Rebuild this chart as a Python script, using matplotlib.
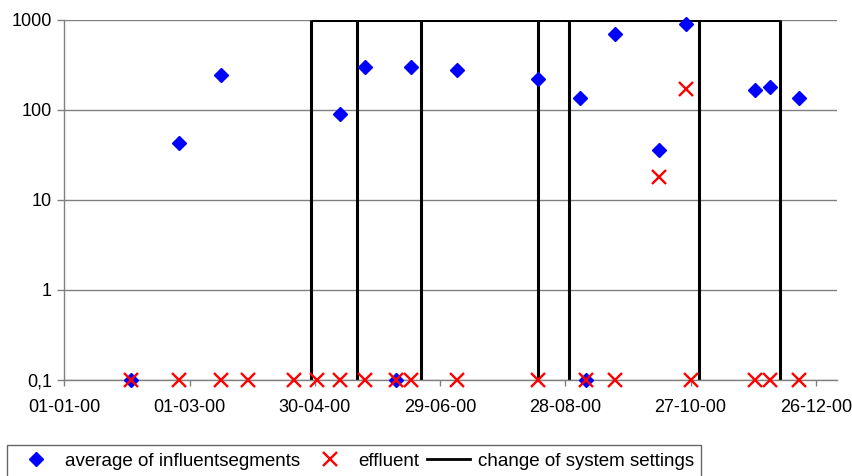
import matplotlib
matplotlib.use("Agg")
import matplotlib.pyplot as plt
import matplotlib.dates as mdates
from matplotlib.lines import Line2D
from matplotlib.ticker import FixedLocator, FixedFormatter
import pandas as pd

plt.rcParams['font.family'] = ['Liberation Sans', 'DejaVu Sans']

# average of influent segments
influent_dates = ["2000-02-02", "2000-02-25", "2000-03-16", "2000-05-12", "2000-05-24",
                  "2000-06-08", "2000-06-15", "2000-07-07", "2000-08-15", "2000-09-04",
                  "2000-09-07", "2000-09-21", "2000-10-12", "2000-10-25", "2000-11-27",
                  "2000-12-04", "2000-12-18"]
influent_vals = [0.1, 43, 243, 91, 300, 0.1, 300, 276, 223, 136, 0.1, 693, 36, 895, 168, 179, 136]

# effluent
effluent_dates = ["2000-02-02", "2000-02-25", "2000-03-16", "2000-03-29", "2000-04-20",
                  "2000-05-01", "2000-05-12", "2000-05-24", "2000-06-08", "2000-06-15",
                  "2000-07-07", "2000-08-15", "2000-09-07", "2000-09-21", "2000-10-12",
                  "2000-10-25", "2000-10-27", "2000-11-27", "2000-12-04", "2000-12-18"]
effluent_vals = [0.1, 0.1, 0.1, 0.1, 0.1, 0.1, 0.1, 0.1, 0.1, 0.1,
                 0.1, 0.1, 0.1, 0.1, 18, 170, 0.1, 0.1, 0.1, 0.1]

# change of system settings
change_dates = ["2000-04-28", "2000-05-20", "2000-06-20", "2000-08-15",
                "2000-08-30", "2000-10-31", "2000-12-09"]

x_ticks = pd.date_range("2000-01-01", periods=7, freq="60D")
y_ticks = [0.1, 1, 10, 100, 1000]
y_labels = ["0,1", "1", "10", "100", "1000"]

inf_d = pd.to_datetime(influent_dates)
eff_d = pd.to_datetime(effluent_dates)
chg_d = pd.to_datetime(change_dates)

fig = plt.figure(figsize=(8.53, 4.76), dpi=100)
ax = fig.add_axes([64.3 / 853, 1 - 380 / 476, (836.7 - 64.3) / 853, 360 / 476])

grey = "#808080"
ax.set_yscale("log")
ax.set_ylim(0.1, 1000)
ax.set_xlim(pd.Timestamp("2000-01-01"), pd.Timestamp("2000-01-01") + pd.Timedelta(days=370))

for v in y_ticks:
    ax.axhline(v, color=grey, lw=1.0, zorder=1)

ax.vlines(chg_d, 0.1, 1000, color="black", lw=2.2, zorder=2)
ax.hlines(1000, chg_d[0], chg_d[-1], color="black", lw=2.2, zorder=2)

ax.plot(inf_d, influent_vals, ls="none", marker="D", ms=7.5, color="#0000ff",
        mec="#0000ff", zorder=3, clip_on=False)
ax.plot(eff_d, effluent_vals, ls="none", marker="x", ms=10.5, mew=1.7, color="#ff0000",
        zorder=4, clip_on=False)

ax.yaxis.set_major_locator(FixedLocator(y_ticks))
ax.yaxis.set_major_formatter(FixedFormatter(y_labels))
ax.yaxis.set_minor_locator(FixedLocator([]))
ax.set_xticks(x_ticks)
ax.xaxis.set_major_formatter(mdates.DateFormatter("%d-%m-%y"))

for s in ["top", "right"]:
    ax.spines[s].set_visible(False)
for s in ["left", "bottom"]:
    ax.spines[s].set_color(grey)
    ax.spines[s].set_linewidth(1.0)

ax.tick_params(axis="both", colors=grey, labelcolor="black", labelsize=13, width=1)
ax.tick_params(axis="y", length=5, pad=4)
ax.tick_params(axis="x", length=4, pad=10)

handles = [
    Line2D([], [], ls="none", marker="D", ms=7, color="#0000ff"),
    Line2D([], [], ls="none", marker="x", ms=10, mew=1.7, color="#ff0000"),
    Line2D([], [], color="black", lw=2),
]
labels = ["average of influentsegments", "effluent", "change of system settings"]
leg = fig.legend(handles, labels, loc="upper left", bbox_to_anchor=(7.3 / 853, 1 - 445.3 / 476),
                 ncol=3, frameon=True, fancybox=False, edgecolor="#404040", fontsize=13.5,
                 borderaxespad=0, handlelength=2.3, handletextpad=0.4, columnspacing=0.4,
                 borderpad=0.4)
leg.get_frame().set_linewidth(1.0)

fig.savefig("out.png", dpi=100)
